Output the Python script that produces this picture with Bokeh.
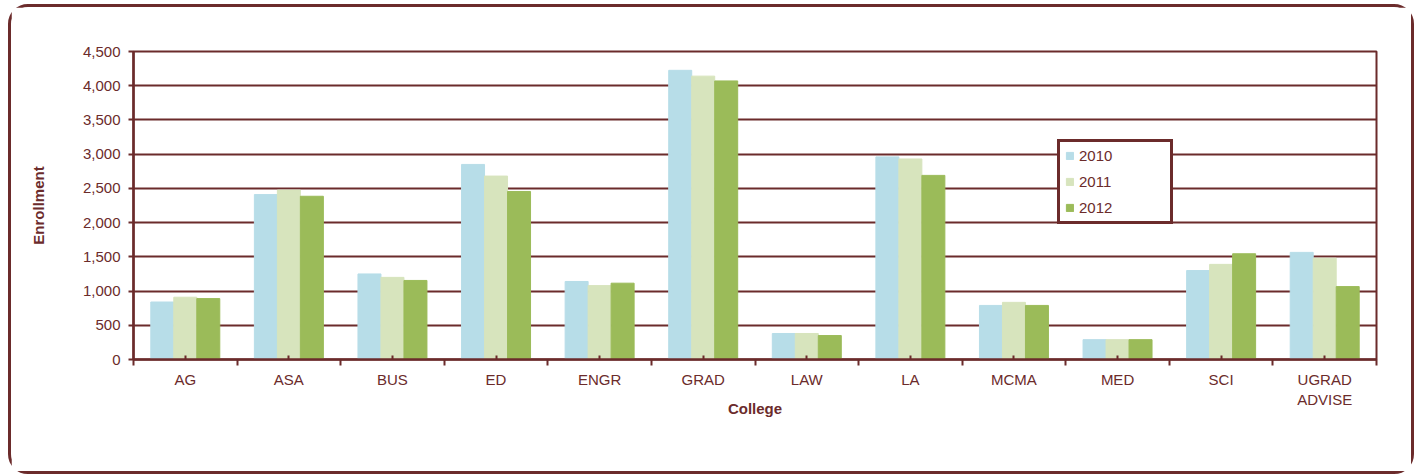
from bokeh.plotting import figure
from bokeh.models import FixedTicker, NumeralTickFormatter, Legend, LegendItem, ColumnDataSource
from bokeh.embed import file_html
from bokeh.resources import INLINE

colleges = ["AG", "ASA", "BUS", "ED", "ENGR", "GRAD", "LAW", "LA", "MCMA", "MED", "SCI", "UGRAD\nADVISE"]
years = ["2010", "2011", "2012"]
y2010 = [840, 2410, 1250, 2850, 1140, 4225, 380, 2960, 790, 290, 1300, 1565]
y2011 = [910, 2475, 1200, 2680, 1080, 4140, 380, 2930, 835, 290, 1390, 1480]
y2012 = [890, 2385, 1155, 2455, 1115, 4070, 350, 2690, 790, 290, 1545, 1065]
colors = ["#B7DDE8", "#D7E4BD", "#9BBB59"]

MAROON = "#6B2B2B"
FONT = "Liberation Sans"

centers = [i + 0.5 for i in range(len(colleges))]
bounds = list(range(len(colleges) + 1))

p = figure(width=1406, height=470, x_range=(0, len(colleges)), y_range=(0, 4500),
           output_backend="svg", toolbar_location=None,
           min_border_left=122, min_border_right=41, min_border_top=44, min_border_bottom=118)
p.styles = {"border": f"3px solid {MAROON}", "border-radius": "20px",
            "margin-top": "4px", "margin-left": "8px"}
p.background_fill_color = "white"
p.border_fill_color = "white"
p.outline_line_color = MAROON
p.outline_line_width = 2

series = [y2010, y2011, y2012]
offsets = [-0.222, 0.0, 0.222]
items = []
for yr, vals, off, col in zip(years, series, offsets, colors):
    src = ColumnDataSource(dict(x=[c + off for c in centers], top=vals))
    r = p.vbar(x="x", top="top", width=0.222, bottom=0, source=src,
               fill_color=col, line_color=col, line_width=1)
    items.append(LegendItem(label=yr, renderers=[r]))

# grid
p.xgrid.visible = False
p.ygrid.grid_line_color = MAROON
p.ygrid.grid_line_width = 2
p.ygrid.ticker = FixedTicker(ticks=list(range(0, 4501, 500)))

# y axis
p.yaxis.ticker = FixedTicker(ticks=list(range(0, 4501, 500)))
p.yaxis.formatter = NumeralTickFormatter(format="0,0")
p.yaxis.axis_line_color = MAROON
p.yaxis.axis_line_width = 2.5
p.yaxis.major_tick_line_color = MAROON
p.yaxis.major_tick_line_width = 2
p.yaxis.major_tick_out = 5
p.yaxis.major_tick_in = 0
p.yaxis.minor_tick_line_color = None
p.yaxis.major_label_text_color = MAROON
p.yaxis.major_label_text_font = FONT
p.yaxis.major_label_text_font_size = "15px"
p.yaxis.major_label_standoff = 8
p.yaxis.axis_label = "Enrollment"
p.yaxis.axis_label_text_font = FONT
p.yaxis.axis_label_text_font_style = "bold"
p.yaxis.axis_label_text_font_size = "15px"
p.yaxis.axis_label_text_color = MAROON
p.yaxis.axis_label_standoff = 33

# x axis
p.xaxis.ticker = FixedTicker(ticks=centers, minor_ticks=bounds)
p.xaxis.major_label_overrides = {c: name for c, name in zip(centers, colleges)}
p.xaxis.axis_line_color = MAROON
p.xaxis.axis_line_width = 2.5
p.xaxis.major_tick_line_color = MAROON
p.xaxis.major_tick_line_width = 2
p.xaxis.major_tick_in = 4
p.xaxis.major_tick_out = 0
p.xaxis.minor_tick_line_color = MAROON
p.xaxis.minor_tick_line_width = 2
p.xaxis.minor_tick_in = 0
p.xaxis.minor_tick_out = 6
p.xaxis.major_label_text_color = MAROON
p.xaxis.major_label_text_font = FONT
p.xaxis.major_label_text_font_size = "15px"
p.xaxis.major_label_standoff = 5
p.xaxis.axis_label = "College"
p.xaxis.axis_label_text_font = FONT
p.xaxis.axis_label_text_font_style = "bold"
p.xaxis.axis_label_text_font_size = "15px"
p.xaxis.axis_label_text_color = MAROON
p.xaxis.axis_label_standoff = -11

legend = Legend(items=items, location=(924, 135), orientation="vertical",
                border_line_color=MAROON, border_line_width=3, border_line_alpha=1,
                background_fill_color="white", background_fill_alpha=1,
                label_text_color=MAROON, label_text_font=FONT, label_text_font_size="15px",
                glyph_width=9, glyph_height=9, label_standoff=5, label_width=86,
                label_height=17, spacing=9, padding=5, margin=0)
p.add_layout(legend, "center")

open("out.html", "w").write(file_html(p, INLINE))
